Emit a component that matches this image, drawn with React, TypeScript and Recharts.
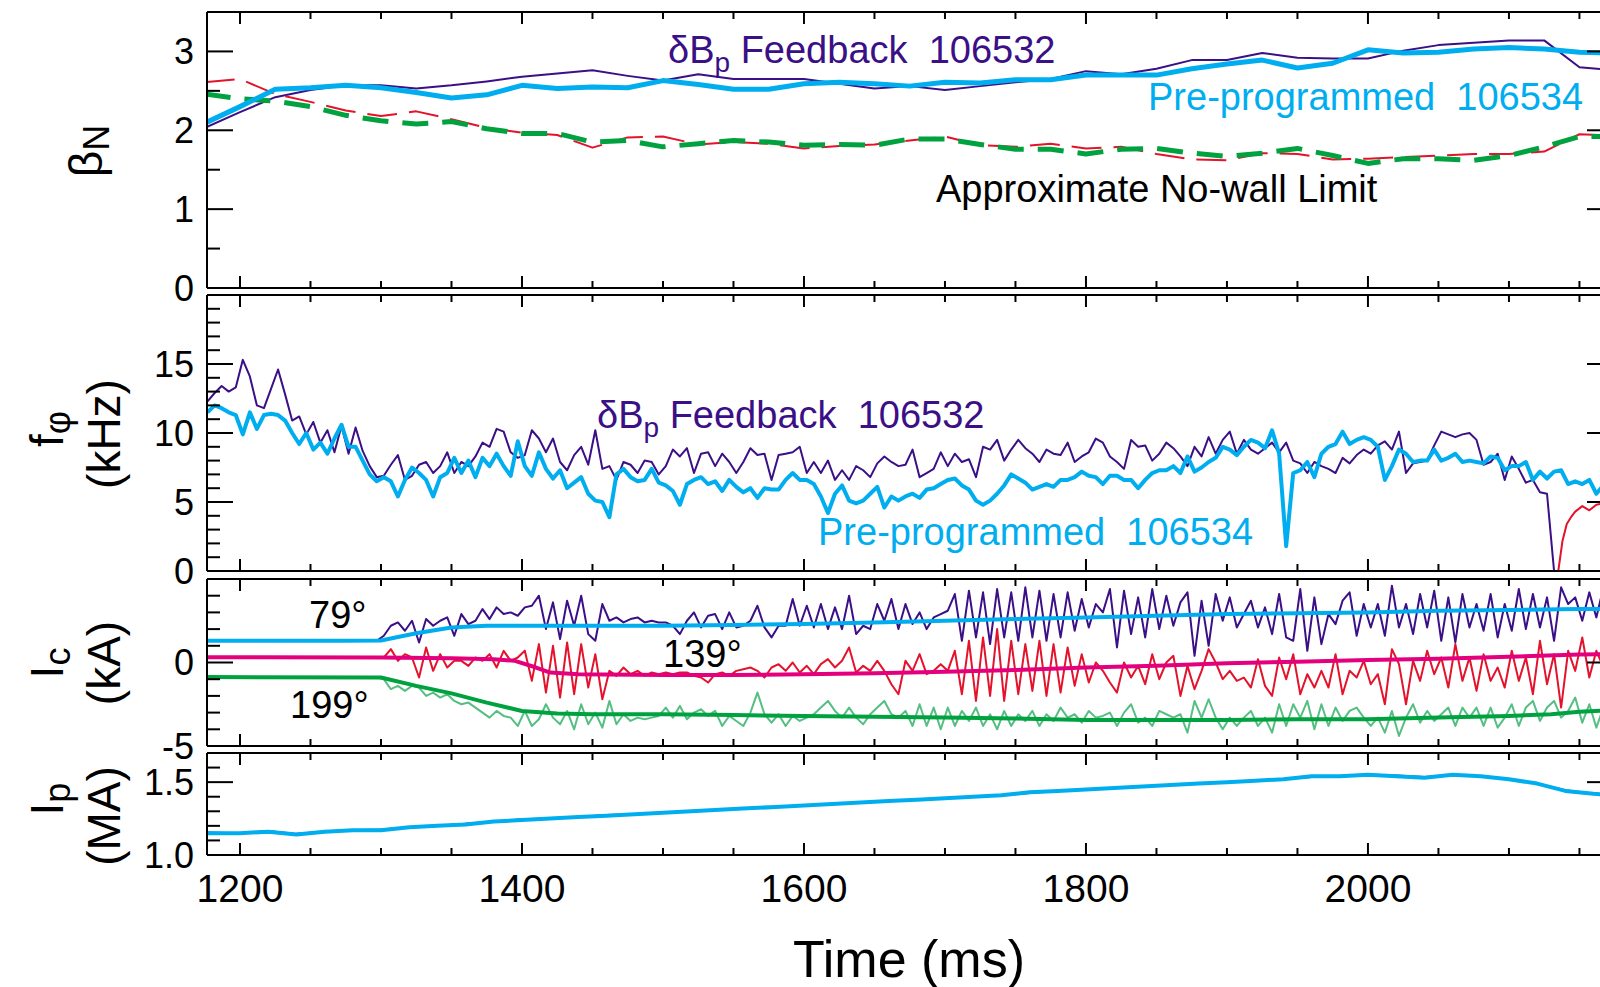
import React from 'react';
import { LineChart, Line, XAxis, YAxis } from 'recharts';

const FONT = '"Liberation Sans", Arial, Helvetica, sans-serif';
const PURPLE = '#3b0f86';
const CYAN = '#00aeef';
const RED = '#e3132b';
const GREEN = '#00a23f';
const LIGHT_GREEN = '#55be82';
const MAGENTA = '#e4007c';

// shared time axis (ms)
const X_DOMAIN: [number, number] = [1176.6, 2173.8];
const X_TICKS = [
  1200, 1250, 1300, 1350, 1400, 1450, 1500, 1550, 1600, 1650, 1700, 1750, 1800, 1850, 1900, 1950,
  2000, 2050, 2100, 2150,
];
const X_MAJOR = [1200, 1400, 1600, 1800, 2000];

// ---- beta_N, sampled every 25 ms from 1175 ----
const BETA_T0 = 1175;
const betaFeedback = [
  2.03, 2.23, 2.42, 2.51, 2.57, 2.57, 2.53, 2.57, 2.62, 2.68, 2.72, 2.76, 2.69, 2.63, 2.71, 2.65,
  2.65, 2.65, 2.59, 2.53, 2.56, 2.51, 2.56, 2.61, 2.65, 2.75, 2.71, 2.78, 2.89, 2.89, 2.98, 2.92,
  2.91, 2.91, 3.01, 3.08, 3.11, 3.14, 3.14, 2.8, 2.76,
];
const betaPre = [
  2.09, 2.3, 2.52, 2.54, 2.57, 2.54, 2.48, 2.41, 2.45, 2.57, 2.53, 2.55, 2.54, 2.63, 2.58, 2.52,
  2.52, 2.59, 2.61, 2.59, 2.56, 2.61, 2.6, 2.64, 2.64, 2.7, 2.7, 2.7, 2.78, 2.84, 2.89, 2.79, 2.85,
  3.02, 2.98, 2.99, 3.03, 3.05, 3.03, 2.99, 2.98,
];
const limitFeedback = [
  2.61, 2.65, 2.46, 2.36, 2.25, 2.18, 2.24, 2.14, 2.03, 1.97, 1.94, 1.78, 1.91, 1.92, 1.82, 1.85,
  1.83, 1.77, 1.8, 1.82, 1.87, 1.92, 1.81, 1.79, 1.83, 1.77, 1.79, 1.7, 1.63, 1.62, 1.71, 1.7, 1.63,
  1.64, 1.66, 1.68, 1.7, 1.7, 1.73, 1.95, 1.93,
];
const limitPre = [
  2.46, 2.4, 2.37, 2.3, 2.19, 2.12, 2.08, 2.11, 2.02, 1.96, 1.96, 1.85, 1.87, 1.79, 1.83, 1.87,
  1.85, 1.81, 1.82, 1.81, 1.89, 1.89, 1.82, 1.76, 1.76, 1.7, 1.76, 1.77, 1.71, 1.67, 1.71, 1.77,
  1.68, 1.58, 1.64, 1.64, 1.62, 1.68, 1.79, 1.92, 1.92,
];

// ---- f_phi (kHz), sampled every 5 ms from 1177 ----
const F_T0 = 1177;
const fFeedback = [
  12.3, 12.9, 13.4, 13.0, 13.3, 15.3, 14.1, 12.0, 11.8, 13.2, 14.6, 12.8, 10.9, 11.2, 9.9, 10.8,
  9.3, 10.2, 8.6, 10.5, 8.5, 10.4, 8.7, 7.6, 6.8, 6.9, 7.7, 8.4, 6.6, 6.9, 7.7, 7.9, 7.1, 7.6, 8.6,
  7.1, 7.9, 7.6, 8.3, 9.3, 9.0, 10.3, 10.1, 8.6, 8.2, 8.4, 10.2, 9.6, 8.6, 9.6, 7.9, 7.3, 8.4, 9.0,
  7.7, 10.2, 7.4, 7.6, 6.6, 7.9, 7.7, 7.1, 8.0,
  7.9, 7.0, 7.6, 8.8, 8.3, 8.9, 7.1, 8.5, 8.6, 7.6, 8.5, 7.9, 7.1, 7.9, 8.9, 8.4, 8.5, 6.6, 8.4,
  8.5, 8.6, 9.0, 7.1, 7.9, 7.1, 8.0, 6.6, 7.3, 6.6, 7.6, 7.3, 6.8, 7.8, 8.3, 7.9, 7.6, 7.7, 8.8,
  6.8, 7.1, 7.4, 8.6, 7.6, 8.5, 7.9, 8.1, 6.8, 9.0, 8.8, 9.5, 8.0, 8.8, 9.5, 8.9, 8.5, 7.9, 8.8,
  8.5, 8.4, 9.3, 7.9, 8.3, 8.6, 9.6,
  9.3, 8.3, 7.9, 7.4, 9.5, 9.0, 9.1, 8.0, 8.5, 9.3, 8.9, 8.3, 7.6, 9.0, 8.3, 9.7, 8.5, 9.5, 10.1,
  8.5, 9.5, 8.8, 8.5, 8.9, 9.3, 8.6, 9.3, 8.0, 7.8, 7.1, 7.9, 7.6, 7.4, 7.1, 8.2, 7.8, 8.4, 8.8,
  8.5, 9.1, 9.4, 8.8, 10.1, 7.1, 7.8, 7.9, 8.0, 9.1, 10.1, 9.9, 9.7, 9.9, 10.0, 9.5, 7.7, 7.9,
  8.5, 6.6, 8.3, 7.4, 6.4, 6.6, 5.7, 5.6, 0,
];
const fPre = [
  11.5, 12.0, 11.8, 11.5, 11.3, 9.9, 11.5, 10.3, 11.3, 11.4, 11.3, 10.9, 10.0, 9.2, 10.0, 8.8,
  9.3, 8.5, 9.6, 10.6, 9.0, 9.0, 8.0, 7.0, 6.5, 6.8, 6.5, 5.4, 6.6, 7.5, 7.1, 6.6, 5.4, 6.8, 7.1,
  8.2, 7.1, 8.0, 6.8, 8.2, 7.6, 8.5, 7.6, 6.9, 9.4, 7.6, 6.9, 8.6, 7.4, 6.7, 7.3, 6.0, 6.4, 6.8,
  5.6, 5.1, 5.0, 3.9, 7.0, 7.4, 6.8, 6.5, 6.6,
  7.4, 6.4, 6.2, 5.8, 4.8, 6.3, 6.6, 6.8, 6.3, 6.5, 5.8, 6.6, 6.1, 5.7, 6.0, 5.3, 6.0, 5.9, 5.9,
  6.6, 7.1, 6.6, 6.6, 6.3, 5.4, 4.2, 5.6, 6.2, 5.1, 4.9, 5.1, 5.6, 6.1, 4.6, 5.4, 5.1, 5.4, 5.6,
  5.3, 5.9, 6.0, 6.3, 6.6, 6.7, 6.2, 5.9, 5.1, 4.8, 5.1, 5.6, 6.2, 7.0, 6.7, 6.4, 5.9, 6.1, 6.3,
  6.1, 6.6, 6.6, 6.8, 7.2, 6.9, 6.8,
  6.3, 6.9, 6.9, 6.6, 6.6, 6.0, 6.6, 7.1, 7.3, 7.3, 7.6, 7.1, 8.3, 7.2, 7.5, 7.9, 8.2, 9.0, 8.8,
  8.4, 9.0, 9.5, 9.3, 8.9, 10.2, 8.5, 1.8, 7.1, 7.3, 7.9, 6.8, 8.5, 9.0, 9.2, 10.1, 9.2, 9.5, 9.7,
  9.5, 9.0, 6.6, 7.6, 8.8, 8.5, 7.9, 8.0, 8.0, 8.8, 8.0, 8.2, 8.5, 7.9, 8.0, 7.9, 7.8, 8.3, 8.2,
  7.3, 7.6, 7.6, 7.9, 6.6, 7.2, 6.7, 7.2, 7.3, 6.3, 6.5, 6.3, 6.6, 5.6, 6.2, 6.1,
];
const fLateTimes = [2135, 2138, 2141, 2144, 2147, 2152, 2157, 2162, 2167, 2172];
const fLate = [0, 2.2, 3.4, 3.9, 4.3, 4.7, 4.4, 4.8, 4.9, 4.9];

// ---- I_c (kA): coil currents at 79, 139, 199 deg ----
const IC_T0 = 1297;
const ic79Feedback = [
  1.3,
  1.6, 2.2, 2.4, 1.9, 2.5, 1.2, 2.6, 2.2, 2.5, 2.7, 1.6, 2.9, 2.3, 2.5, 3.2, 2.6, 3.3, 2.9, 3.0,
  2.8, 3.3, 3.4, 4.0, 2.0, 3.6, 1.4, 3.7, 2.2, 4.0, 1.7, 1.3, 3.5, 2.5, 2.7, 2.4, 2.6, 2.7, 2.4,
  2.5, 2.4, 2.4, 2.2, 1.7, 2.5, 3.0, 2.1, 2.8, 2.9, 2.0, 3.0, 2.1, 2.2, 2.5, 3.4, 2.1, 1.5, 2.2,
  2.2, 3.8, 2.2, 3.4, 2.1, 3.5, 2.0, 3.3, 2.0, 4.0, 1.7, 2.2, 2.0, 3.5, 2.5, 3.8, 2.0, 3.5, 2.3,
  3.0, 2.0, 2.7, 2.9, 3.1, 4.1, 1.3, 4.3, 1.5, 4.2, 1.1, 4.4, 1.5, 4.2, 1.3, 4.5, 1.5, 4.3, 1.3,
  4.1, 1.5, 4.2, 1.9, 3.8, 2.1, 3.5,
  3.0, 4.4, 0.9, 4.3, 1.7, 3.9, 1.5, 4.4, 2.0, 4.0, 2.2, 3.6, 4.2, 0.4, 3.7, 1.0, 4.1, 2.5, 3.9,
  2.1, 2.9, 3.7, 2.1, 3.3, 1.7, 4.1, 1.5, 1.3, 4.4, 0.7, 3.9, 1.1, 2.9, 2.3, 3.7, 4.2, 1.6, 3.5,
  2.1, 3.5, 1.6, 4.6, 2.1, 3.5, 1.7, 4.1, 2.1, 4.3, 1.3, 3.9, 1.2, 4.1, 2.1, 3.5, 1.9, 4.1, 1.5,
  3.5, 1.9, 4.4, 2.0, 4.1, 2.1, 3.9, 1.3, 4.5, 3.5, 3.9, 2.5, 4.2, 2.7, 4.5, 3.0,
];
const ic139Feedback = [
  0.3,
  0.3, 0.8, 0.1, 0.5, 0.3, -0.9, 0.9, -0.5, 0.5, -0.3, 0.1, 0.1, -0.2, 0.3, 0.1, 0.5, -0.3, 0.7,
  0.1, 0.3, 0.7, -1.1, 1.1, -1.8, 1.0, -2.1, 1.2, -1.9, 1.1, -1.5, 0.5, -2.2, -0.5, -0.8, -0.3,
  -0.7, -0.5, -0.8,
  -0.6, -0.7, -0.6, -0.7, -0.6, -0.6, -0.8, -0.9, -1.2, -0.7, -0.6, -0.8, -0.5, -0.4, -0.3, -0.5,
  -0.9, -0.3, -0.1, -0.5, 0.0, -0.6, -0.2, -0.7, -0.1, 0.2, -0.3, 0.1, 0.9, -0.6, -0.2, -0.5, 0.1,
  -0.5, -1.3, -1.9, 0.1, -0.5, 0.5, -0.7, -0.5, -0.1, -0.5, 0.7, -1.9, 1.3, -2.3, 1.5, -2.0, 2.0,
  -2.3, 1.3, -1.9, 1.1, -1.7, 1.3, -2.0, 1.1, -1.8, 0.9, -1.4, 0.5, -1.2, 0.0,
  -0.5, -1.2, -1.8, 0.0, -0.9, -0.2, -1.3, 0.5, -1.0, 0.0, 0.4, -2.0, -0.2, -1.6, -0.5, 0.8, 0.0,
  -1.0, -0.5, -1.1, -0.9, -1.5, 0.2, -1.4, -2.0, 0.3, -1.0, 0.5, -1.9, -0.7, -1.5, -0.5, -1.5,
  0.5, -1.9, -0.5, -0.9, 0.1, -1.3, -0.7, -2.5, 0.8, -0.1, -2.5, 0.1, -1.1, 0.7, -0.7, 0.3, -1.5,
  1.1, -1.1, 0.3, -1.7, 0.5, -1.1, -0.3, -1.5, 0.7, -1.1, 0.3, -1.9, 1.3, -1.3, 0.5, -2.7, 0.7,
  -0.5, 1.5, -0.9, 0.7, -0.3, 0.4,
];
const ic199Feedback = [
  -0.9,
  -1.0, -1.6, -1.4, -1.7, -1.4, -1.5, -2.0, -1.8, -2.1, -1.9, -2.3, -2.5, -2.4, -2.7, -3.0, -3.3,
  -2.9, -3.2, -3.3, -3.8, -2.9, -3.8, -3.4, -2.5, -3.3, -3.7, -2.9, -4.0, -2.5, -3.7, -3.0, -3.9,
  -2.3, -3.7, -3.1, -3.5, -3.3, -3.4,
  -3.3, -3.2, -2.7, -3.3, -2.6, -3.4, -3.0, -2.8, -3.2, -2.9, -3.8, -3.2, -3.5, -3.8, -3.0, -1.8,
  -3.1, -3.6, -3.1, -3.8, -3.2, -3.5, -3.3, -3.1, -2.7, -2.3, -2.9, -3.3, -2.7, -3.3, -3.7, -3.1,
  -2.7, -2.3, -3.1, -3.3, -2.9, -3.8, -2.5, -3.8, -2.7, -4.0, -2.7, -3.8, -2.9, -3.5, -2.7, -3.8,
  -3.1, -4.0, -2.9, -3.8, -3.1, -3.5, -2.9, -3.8, -3.1, -3.5, -2.7, -3.3, -3.1, -3.6, -2.9, -3.3,
  -3.2, -3.0, -3.8, -3.0, -2.5, -3.6, -3.3, -3.8, -2.9, -3.1, -3.3, -3.1, -4.2, -2.3, -3.3, -2.2,
  -3.3, -4.0, -3.3, -3.8, -3.3, -2.9, -3.8, -3.3, -4.2, -2.5, -3.8, -2.5, -3.3, -2.3, -4.0, -2.5,
  -3.8, -2.7, -3.5, -2.9, -2.7, -3.3, -3.8, -3.3, -4.2, -2.9, -4.4, -3.3, -2.5, -3.6, -2.9, -3.5,
  -3.1, -2.7, -3.8, -2.7, -3.3, -2.7, -3.8, -2.7, -3.9, -3.3, -2.5, -3.8, -2.7, -2.3, -3.5, -2.7,
  -2.3, -3.3, -2.9, -2.1, -3.6, -2.5, -3.9, -2.7, -2.6,
];
const ic79PreTimes = [
  1177, 1225, 1275, 1300, 1325, 1350, 1375, 1400, 1450, 1500, 1550, 1600, 1650, 1700, 1750, 1800,
  1850, 1900, 1950, 2000, 2050, 2100, 2150, 2175,
];
const ic79Pre = [
  1.3, 1.3, 1.3, 1.32, 1.75, 2.1, 2.2, 2.2, 2.2, 2.2, 2.25, 2.3, 2.4, 2.5, 2.6, 2.7, 2.8, 2.9,
  2.95, 3.0, 3.1, 3.15, 3.2, 3.2,
];
const ic139PreTimes = [
  1177, 1300, 1350, 1380, 1395, 1410, 1420, 1440, 1500, 1550, 1600, 1650, 1700, 1750, 1800, 1850,
  1900, 1950, 2000, 2050, 2100, 2150, 2175,
];
const ic139Pre = [
  0.32, 0.3, 0.25, 0.2, 0.1, -0.3, -0.6, -0.7, -0.75, -0.75, -0.7, -0.65, -0.55, -0.45, -0.3,
  -0.2, -0.05, 0.05, 0.15, 0.22, 0.35, 0.48, 0.5,
];
const ic199PreTimes = [
  1177, 1300, 1325, 1350, 1375, 1400, 1425, 1450, 1500, 1550, 1600, 1650, 1700, 1750, 1800, 1850,
  1900, 1950, 2000, 2050, 2100, 2130, 2150, 2175,
];
const ic199Pre = [
  -0.87, -0.9, -1.4, -1.85, -2.4, -2.9, -3.05, -3.1, -3.1, -3.15, -3.2, -3.25, -3.3, -3.35, -3.45,
  -3.45, -3.45, -3.4, -3.4, -3.3, -3.2, -3.1, -2.95, -2.85,
];

// ---- I_p (MA) ----
const ipTimes = [
  1177, 1200, 1220, 1240, 1260, 1280, 1300, 1320, 1340, 1360, 1380, 1400, 1420, 1440, 1460, 1480,
  1500, 1520, 1540, 1560, 1580, 1600, 1620, 1640, 1660, 1680, 1700, 1720, 1740, 1760, 1780, 1800,
  1820, 1840, 1860, 1880, 1900, 1920, 1940, 1960, 1980, 2000, 2020, 2040, 2060, 2080, 2100, 2120,
  2140, 2160, 2175,
];
const ipFeedback = [
  1.155, 1.15, 1.165, 1.145, 1.16, 1.17, 1.175, 1.19, 1.2, 1.215, 1.23, 1.245, 1.25, 1.26, 1.275,
  1.28, 1.29, 1.3, 1.31, 1.32, 1.33, 1.34, 1.35, 1.36, 1.37, 1.38, 1.39, 1.4, 1.41, 1.425, 1.44,
  1.45, 1.46, 1.47, 1.48, 1.49, 1.5, 1.51, 1.52, 1.535, 1.54, 1.55, 1.545, 1.535, 1.545, 1.54,
  1.52, 1.49, 1.445, 1.42, 1.41,
];
const ipPre = [
  1.15, 1.15, 1.16, 1.14, 1.16, 1.17, 1.17, 1.19, 1.2, 1.21, 1.23, 1.24, 1.25, 1.26, 1.27, 1.28,
  1.29, 1.3, 1.31, 1.32, 1.33, 1.34, 1.35, 1.36, 1.37, 1.38, 1.39, 1.4, 1.41, 1.43, 1.44, 1.45,
  1.46, 1.47, 1.48, 1.49, 1.5, 1.51, 1.52, 1.54, 1.54, 1.55, 1.54, 1.53, 1.55, 1.54, 1.52, 1.49,
  1.44, 1.42, 1.41,
];

type Pt = { t: number; v: number };
const stepped = (t0: number, step: number, vals: number[]): Pt[] =>
  vals.map((v, i) => ({ t: t0 + i * step, v }));
const paired = (ts: number[], vals: number[]): Pt[] => ts.map((t, i) => ({ t, v: vals[i] }));

type SeriesDef = { id: string; data: Pt[]; color: string; width: number; dash?: string };
type PanelDef = {
  top: number;
  padTop: number;
  plotHeight: number;
  padBottom: number;
  domain: [number, number];
  yTicks: number[];
  yMajor: number[];
  yLabels: number[];
  fmt: (v: number) => string;
  series: SeriesDef[];
  xLabels?: boolean;
};

const near = (a: number, list: number[]) => list.some((b) => Math.abs(a - b) < 1e-6);
const LABEL = { fontFamily: FONT, fill: '#000' };

function leftTick(p: PanelDef) {
  return (props: any) => {
    const v = props.payload.value;
    const len = near(v, p.yMajor) ? 26 : 13;
    return (
      <g>
        <line x1={props.x} y1={props.y} x2={props.x + len} y2={props.y} stroke="#000" strokeWidth={2} />
        {near(v, p.yLabels) && (
          <text {...LABEL} x={props.x - 13} y={props.y} textAnchor="end" dominantBaseline="central" fontSize={36}>
            {p.fmt(v)}
          </text>
        )}
      </g>
    );
  };
}

function rightTick(p: PanelDef) {
  return (props: any) => {
    const len = near(props.payload.value, p.yMajor) ? 26 : 13;
    return <line x1={props.x} y1={props.y} x2={props.x - len} y2={props.y} stroke="#000" strokeWidth={2} />;
  };
}

function xTick(dir: 1 | -1, withLabel: boolean) {
  return (props: any) => {
    const v = props.payload.value;
    const len = near(v, X_MAJOR) ? 12 : 7;
    return (
      <g>
        <line x1={props.x} y1={props.y} x2={props.x} y2={props.y + dir * len} stroke="#000" strokeWidth={2} />
        {withLabel && near(v, X_MAJOR) && (
          <text {...LABEL} x={props.x} y={props.y + 47} textAnchor="middle" fontSize={39}>
            {v}
          </text>
        )}
      </g>
    );
  };
}

const AXIS_LINE = { stroke: '#000', strokeWidth: 2 };

function Panel({ p }: { p: PanelDef }) {
  const height = p.padTop + p.plotHeight + p.padBottom;
  // each axis takes 1px; margins are reduced by that amount
  return (
    <div style={{ position: 'absolute', left: 0, top: p.top - p.padTop }}>
      <LineChart
        width={1640}
        height={height}
        margin={{ top: p.padTop - 1, right: 26, bottom: p.padBottom - 1, left: 206 }}
      >
        <XAxis
          xAxisId="b"
          dataKey="t"
          type="number"
          domain={X_DOMAIN}
          allowDataOverflow
          ticks={X_TICKS}
          interval={0}
          height={1}
          tickSize={0}
          tickMargin={0}
          tickLine={false}
          axisLine={AXIS_LINE}
          tick={xTick(-1, !!p.xLabels)}
        />
        <XAxis
          xAxisId="t"
          orientation="top"
          dataKey="t"
          type="number"
          domain={X_DOMAIN}
          allowDataOverflow
          ticks={X_TICKS}
          interval={0}
          height={1}
          tickSize={0}
          tickMargin={0}
          tickLine={false}
          axisLine={AXIS_LINE}
          tick={xTick(1, false)}
        />
        <YAxis
          yAxisId="l"
          type="number"
          domain={p.domain}
          allowDataOverflow
          ticks={p.yTicks}
          interval={0}
          width={1}
          tickSize={0}
          tickMargin={0}
          tickLine={false}
          axisLine={AXIS_LINE}
          tick={leftTick(p)}
        />
        <YAxis
          yAxisId="r"
          orientation="right"
          type="number"
          domain={p.domain}
          allowDataOverflow
          ticks={p.yTicks}
          interval={0}
          width={1}
          tickSize={0}
          tickMargin={0}
          tickLine={false}
          axisLine={AXIS_LINE}
          tick={rightTick(p)}
        />
        {p.series.map((s) => (
          <Line
            key={s.id}
            xAxisId="b"
            yAxisId="l"
            data={s.data}
            dataKey="v"
            type="linear"
            stroke={s.color}
            strokeWidth={s.width}
            strokeDasharray={s.dash}
            strokeLinejoin="round"
            dot={false}
            activeDot={false}
            isAnimationActive={false}
          />
        ))}
      </LineChart>
    </div>
  );
}

const panels: PanelDef[] = [
  {
    top: 12,
    padTop: 12,
    plotHeight: 276,
    padBottom: 30,
    domain: [0, 3.5],
    yTicks: [0, 0.5, 1, 1.5, 2, 2.5, 3],
    yMajor: [0, 1, 2, 3],
    yLabels: [0, 1, 2, 3],
    fmt: (v) => String(v),
    series: [
      { id: 'bfb', data: stepped(BETA_T0, 25, betaFeedback), color: PURPLE, width: 2 },
      { id: 'lfb', data: stepped(BETA_T0, 25, limitFeedback), color: RED, width: 2, dash: '30 12' },
      { id: 'lpre', data: stepped(BETA_T0, 25, limitPre), color: GREEN, width: 5, dash: '26 14' },
      { id: 'bpre', data: stepped(BETA_T0, 25, betaPre), color: CYAN, width: 5 },
    ],
  },
  {
    top: 295,
    padTop: 30,
    plotHeight: 276,
    padBottom: 30,
    domain: [0, 20],
    yTicks: [0, 1, 2, 3, 4, 5, 6, 7, 8, 9, 10, 11, 12, 13, 14, 15, 16, 17, 18, 19],
    yMajor: [0, 5, 10, 15],
    yLabels: [0, 5, 10, 15],
    fmt: (v) => String(v),
    series: [
      { id: 'ffb', data: stepped(F_T0, 5, fFeedback), color: PURPLE, width: 2 },
      { id: 'flate', data: paired(fLateTimes, fLate), color: RED, width: 2 },
      { id: 'fpre', data: stepped(F_T0, 5, fPre), color: CYAN, width: 4 },
    ],
  },
  {
    top: 579,
    padTop: 30,
    plotHeight: 167,
    padBottom: 30,
    domain: [-5, 5],
    yTicks: [-5, -4, -3, -2, -1, 0, 1, 2, 3, 4],
    yMajor: [-5, 0],
    yLabels: [-5, 0],
    fmt: (v) => String(v),
    series: [
      { id: 'c79f', data: stepped(IC_T0, 5, ic79Feedback), color: PURPLE, width: 2 },
      { id: 'c139f', data: stepped(IC_T0, 5, ic139Feedback), color: RED, width: 2 },
      { id: 'c199f', data: stepped(IC_T0, 5, ic199Feedback), color: LIGHT_GREEN, width: 2 },
      { id: 'c79p', data: paired(ic79PreTimes, ic79Pre), color: CYAN, width: 4 },
      { id: 'c139p', data: paired(ic139PreTimes, ic139Pre), color: MAGENTA, width: 4 },
      { id: 'c199p', data: paired(ic199PreTimes, ic199Pre), color: GREEN, width: 4 },
    ],
  },
  {
    top: 753,
    padTop: 30,
    plotHeight: 102,
    padBottom: 70,
    domain: [1.0, 1.7],
    yTicks: [1.0, 1.1, 1.2, 1.3, 1.4, 1.5, 1.6],
    yMajor: [1.0, 1.5],
    yLabels: [1.0, 1.5],
    fmt: (v) => v.toFixed(1),
    xLabels: true,
    series: [
      { id: 'ipf', data: paired(ipTimes, ipFeedback), color: PURPLE, width: 2 },
      { id: 'ipp', data: paired(ipTimes, ipPre), color: CYAN, width: 4 },
    ],
  },
];

const T38 = { fontFamily: FONT, fontSize: 38, style: { whiteSpace: 'pre' as const } };

function Annotations() {
  const title = (x: number, y: number, main: string, sub?: string) => (
    <text
      transform={`translate(${x},${y}) rotate(-90)`}
      textAnchor="middle"
      dominantBaseline="central"
      fontFamily={FONT}
      fontSize={46}
      fill="#000"
    >
      {main}
      {sub && (
        <tspan dy={10} fontSize={36}>
          {sub}
        </tspan>
      )}
    </text>
  );
  return (
    <svg width={1600} height={987} style={{ position: 'absolute', left: 0, top: 0, pointerEvents: 'none' }}>
      <text {...T38} x={668} y={63} fill={PURPLE}>
        δB<tspan dy={9} fontSize={28}>p</tspan>
        <tspan dy={-9}>{' Feedback  106532'}</tspan>
      </text>
      <text {...T38} x={1148} y={110} fill={CYAN}>
        {'Pre-programmed  106534'}
      </text>
      <text {...T38} x={936} y={202} fill="#000">
        Approximate No-wall Limit
      </text>
      <text {...T38} x={597} y={428} fill={PURPLE}>
        δB<tspan dy={9} fontSize={28}>p</tspan>
        <tspan dy={-9}>{' Feedback  106532'}</tspan>
      </text>
      <text {...T38} x={818} y={545} fill={CYAN}>
        {'Pre-programmed  106534'}
      </text>
      <text {...T38} x={309} y={628} fill="#000">
        79°
      </text>
      <text {...T38} x={663} y={667} fill="#000">
        139°
      </text>
      <text {...T38} x={290} y={718} fill="#000">
        199°
      </text>

      {title(86, 151, 'β', 'N')}
      {title(47, 429, 'f', 'φ')}
      {title(104, 434, '(kHz)')}
      {title(47, 663, 'I', 'c')}
      {title(104, 663, '(kA)')}
      {title(47, 799, 'I', 'p')}
      {title(104, 816, '(MA)')}

      <text x={909} y={977} textAnchor="middle" fontFamily={FONT} fontSize={52} fill="#000">
        Time (ms)
      </text>
    </svg>
  );
}

export default function App() {
  return (
    <div
      style={{
        position: 'fixed',
        left: 0,
        top: 0,
        width: 1600,
        height: 987,
        overflow: 'hidden',
        background: '#fff',
        fontFamily: FONT,
      }}
    >
      {panels.map((p, i) => (
        <Panel key={i} p={p} />
      ))}
      <Annotations />
    </div>
  );
}
